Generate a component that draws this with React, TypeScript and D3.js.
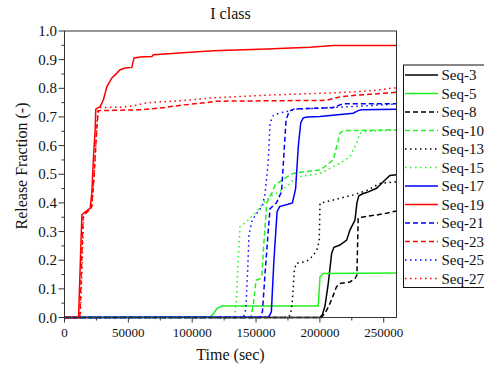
import * as d3 from "d3";

// time (sec), release fraction
const seq3 = [[0, 0], [200000, 0], [202000, 0.01], [204000, 0.04], [206600, 0.12], [209200, 0.224], [211000, 0.245], [215700, 0.253], [221000, 0.27], [223500, 0.305], [227500, 0.34], [229000, 0.4], [230500, 0.425], [233500, 0.432], [236600, 0.436], [244400, 0.451], [249600, 0.474], [254800, 0.496], [260000, 0.498]];
const seq5 = [[0, 0], [114000, 0.002], [117000, 0.015], [119200, 0.031], [123200, 0.04], [198700, 0.04], [200100, 0.142], [202700, 0.154], [260000, 0.155]];
const seq8 = [[0, 0], [201000, 0], [204000, 0.015], [207000, 0.04], [210000, 0.072], [213000, 0.107], [215700, 0.119], [223500, 0.124], [227500, 0.136], [229000, 0.148], [230000, 0.346], [232700, 0.35], [244400, 0.358], [252200, 0.364], [260000, 0.372]];
const seq10 = [[0, 0], [146000, 0], [148000, 0.05], [150000, 0.13], [153000, 0.135], [154500, 0.145], [156000, 0.25], [158400, 0.4], [162300, 0.434], [165000, 0.463], [174000, 0.49], [179000, 0.503], [190000, 0.51], [200000, 0.515], [204000, 0.527], [210500, 0.55], [215700, 0.643], [218300, 0.652], [260000, 0.655]];
const seq13 = [[0, 0], [175000, 0], [177000, 0.01], [178500, 0.06], [180000, 0.165], [181500, 0.189], [187000, 0.194], [191000, 0.2], [195000, 0.218], [198000, 0.24], [199500, 0.27], [200100, 0.399], [210500, 0.41], [226000, 0.428], [236600, 0.443], [247000, 0.468], [260000, 0.474]];
const seq15 = [[0, 0], [133000, 0], [134500, 0.05], [136000, 0.2], [137500, 0.317], [144000, 0.34], [150500, 0.37], [155700, 0.4], [161000, 0.422], [166000, 0.434], [174000, 0.457], [179000, 0.48], [184400, 0.492], [200000, 0.503], [215700, 0.538], [223500, 0.561], [228800, 0.608], [231400, 0.643], [236600, 0.649], [260000, 0.655]];
const seq17 = [[0, 0], [160000, 0.002], [162000, 0.02], [164000, 0.2], [166500, 0.37], [168500, 0.387], [175000, 0.395], [178500, 0.4], [181000, 0.45], [183100, 0.597], [185000, 0.68], [187000, 0.697], [190000, 0.7], [200000, 0.702], [226000, 0.713], [230000, 0.722], [232700, 0.725], [260000, 0.727]];
const seq19 = [[0, 0], [11000, 0], [13600, 0.358], [16200, 0.369], [20100, 0.381], [21400, 0.434], [22700, 0.561], [24000, 0.655], [24500, 0.727], [27900, 0.736], [30500, 0.76], [33200, 0.806], [37100, 0.836], [41000, 0.853], [43600, 0.865], [47500, 0.871], [52700, 0.873], [54500, 0.906], [59200, 0.909], [68400, 0.911], [69700, 0.917], [95800, 0.925], [116600, 0.931], [158400, 0.937], [192300, 0.943], [210500, 0.949], [260000, 0.949]];
const seq21 = [[0, 0], [153000, 0], [155000, 0.02], [157000, 0.15], [159500, 0.3], [161000, 0.38], [166000, 0.4], [170000, 0.44], [173500, 0.69], [176000, 0.72], [180000, 0.728], [210000, 0.732], [218000, 0.746], [260000, 0.746]];
const seq23 = [[0, 0], [12000, 0], [14600, 0.355], [17000, 0.365], [21000, 0.38], [22500, 0.45], [24000, 0.56], [25300, 0.66], [26500, 0.722], [59300, 0.725], [74900, 0.731], [93100, 0.742], [111400, 0.75], [119200, 0.755], [205300, 0.758], [215700, 0.77], [226100, 0.775], [241800, 0.78], [260000, 0.786]];
const seq25 = [[0, 0], [140000, 0], [142000, 0.03], [143500, 0.17], [144500, 0.29], [147000, 0.34], [150000, 0.36], [155000, 0.39], [157000, 0.43], [159500, 0.54], [161000, 0.68], [163500, 0.705], [168000, 0.713], [175000, 0.72], [180000, 0.727], [220000, 0.735], [260000, 0.745]];
const seq27 = [[0, 0], [12500, 0], [15000, 0.355], [17500, 0.37], [21500, 0.39], [23000, 0.48], [24500, 0.6], [26000, 0.72], [27500, 0.733], [45000, 0.734], [55000, 0.74], [65000, 0.75], [93000, 0.757], [114000, 0.766], [163500, 0.777], [215700, 0.785], [241800, 0.792], [257400, 0.801], [260000, 0.801]];

const seriesNames = ["Seq-3", "Seq-5", "Seq-8", "Seq-10", "Seq-13", "Seq-15", "Seq-17", "Seq-19", "Seq-21", "Seq-23", "Seq-25", "Seq-27"];
const seriesData = [seq3, seq5, seq8, seq10, seq13, seq15, seq17, seq19, seq21, seq23, seq25, seq27];
const seriesColors = ["#000000", "#22f022", "#000000", "#22f022", "#000000", "#22f022", "#0000ff", "#ff0000", "#0000ff", "#ff0000", "#0000ff", "#ff0000"];
const seriesStyles = ["solid", "solid", "dash", "dash", "dot", "dot", "solid", "solid", "dash", "dash", "dot", "dot"];

const xTicks = [0, 50000, 100000, 150000, 200000, 250000];
const yTicks = [0, 0.1, 0.2, 0.3, 0.4, 0.5, 0.6, 0.7, 0.8, 0.9, 1.0];

const dashFor = (s: string) => (s === "dash" ? "5,3" : s === "dot" ? "1.5,3.5" : undefined);

// single family name; the list form fell back to a sans face
const font = { fontFamily: "Liberation Serif" };

export default function App() {
  const width = 484;
  const height = 369;
  const left = 64.5, right = 396.5, top = 31, bottom = 317.5;

  const x = d3.scaleLinear().domain([0, 260000]).range([left, right]);
  const y = d3.scaleLinear().domain([0, 1]).range([bottom, top]);

  const line = d3
    .line<number[]>()
    .x(d => x(d[0]))
    .y(d => y(d[1]));

  const xMinor = d3.range(25000, 260000, 50000);
  const yMinor = d3.range(0.05, 1, 0.1);

  return (
    <svg width={width} height={height} style={{ position: "absolute", left: 0, top: 0 }}>
      <rect width={width} height={height} fill="#fff" />
      <text x={(left + right) / 2} y={19} textAnchor="middle" fontSize={16} fill="#111" style={font}>I class</text>

      <defs>
        <clipPath id="plotclip">
          <rect x={left} y={top - 2} width={right - left} height={bottom - top + 4} />
        </clipPath>
      </defs>

      <g clipPath="url(#plotclip)">
        {seriesData.map((d, i) => (
          <path
            key={seriesNames[i]}
            d={line(d) || ""}
            fill="none"
            stroke={seriesColors[i]}
            strokeWidth={1.5}
            strokeDasharray={dashFor(seriesStyles[i])}
          />
        ))}
      </g>

      <rect x={left} y={top} width={right - left} height={bottom - top} fill="none" stroke="#333" strokeWidth={1} />

      {/* x axis ticks */}
      {xTicks.map(t => (
        <g key={"xt" + t}>
          <line x1={x(t)} x2={x(t)} y1={bottom} y2={bottom + 5} stroke="#333" />
          <text x={x(t)} y={337} textAnchor="middle" fontSize={13} fill="#111" style={font}>{t}</text>
        </g>
      ))}
      {xMinor.map(t => (
        <line key={"xm" + t} x1={x(t)} x2={x(t)} y1={bottom} y2={bottom + 3} stroke="#333" />
      ))}

      {/* y axis ticks */}
      {yTicks.map(t => (
        <g key={"yt" + t}>
          <line x1={left - 6} x2={left} y1={y(t)} y2={y(t)} stroke="#333" />
          <text x={57} y={y(t) + 5} textAnchor="end" fontSize={15} fill="#111" style={font}>{d3.format(".1f")(t)}</text>
        </g>
      ))}
      {yMinor.map(t => (
        <line key={"ym" + t} x1={left - 3} x2={left} y1={y(t)} y2={y(t)} stroke="#333" />
      ))}

      <text x={(left + right) / 2} y={360} textAnchor="middle" fontSize={16} fill="#111" style={font}>Time (sec)</text>
      <text transform={`translate(27, 166) rotate(-90)`} textAnchor="middle" fontSize={16} fill="#111" style={font}>Release Fraction (-)</text>

      {/* legend */}
      <rect x={403.5} y={65} width={100} height={222.5} fill="#fff" stroke="#111" strokeWidth={1} />
      {seriesNames.map((name, i) => {
        const cy = 75 + i * 18.5;
        return (
          <g key={"lg" + name}>
            <line
              x1={405}
              x2={438}
              y1={cy}
              y2={cy}
              stroke={seriesColors[i]}
              strokeWidth={1.5}
              strokeDasharray={dashFor(seriesStyles[i])}
            />
            <text x={441.5} y={cy + 5} fontSize={15} fill="#111" style={font}>{name}</text>
          </g>
        );
      })}
    </svg>
  );
}
